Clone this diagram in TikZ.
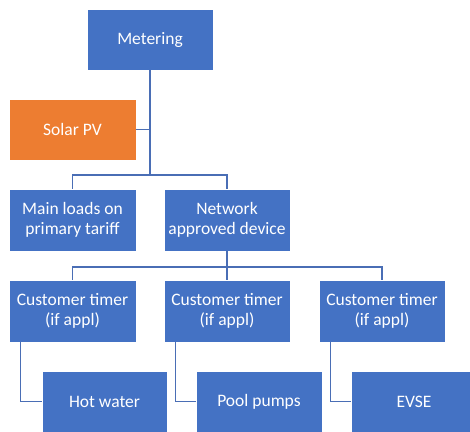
\documentclass[tikz,border=0pt]{standalone}
\usepackage{fontspec}
\setmainfont{Carlito}
\definecolor{boxblue}{HTML}{4472C4}
\definecolor{boxorange}{HTML}{ED7D31}
\definecolor{linkblue}{HTML}{4A6EB5}
\begin{document}
\begin{tikzpicture}[x=1pt,y=-1pt,
  box/.style={fill=boxblue, draw=white, line width=0.8pt, minimum width=126pt, minimum height=62pt,
    inner sep=0pt, text=white, align=center, font=\fontsize{17.5}{20}\selectfont},
  link/.style={draw=linkblue, line width=1.5pt}]
\useasboundingbox (0,0) rectangle (470,431);
\node[box, minimum height=61pt] (meter) at (150,39.5) {Metering};
\node[box, fill=boxorange, minimum height=61pt, minimum width=127pt] (solar) at (72.5,129.5) {Solar PV};
\node[box, minimum width=127pt] (main) at (72.5,220) {Main loads on\\primary tariff};
\node[box] (net) at (227,220) {Network\\approved device};
\node[box, minimum width=127pt] (ct1) at (72.5,311) {Customer timer\\(if appl)};
\node[box] (ct2) at (227,311) {Customer timer\\(if appl)};
\node[box] (ct3) at (382,311) {Customer timer\\(if appl)};
\node[box, minimum height=61pt, minimum width=125pt] (hot) at (104.5,401.5) {Hot water};
\node[box, minimum height=61pt] (pool) at (259,401.5) {Pool pumps};
\node[box, minimum height=61pt] (evse) at (414,401.5) {EVSE};
\coordinate (j1) at (150,175);
\coordinate (j2) at (227,267);
\draw[link] (meter.south) -- (j1);
\draw[link] (solar.east) -- (solar.east -| meter.south);
\draw[link] (main.north) |- (j1) -| (net.north);
\draw[link] (net.south) -- (j2);
\draw[link] (ct1.north) |- (j2) -| (ct3.north);
\draw[link] (j2) -- (ct2.north);
\draw[link] ([xshift=12pt]ct1.south west) |- (hot.west);
\draw[link] ([xshift=12pt]ct2.south west) |- (pool.west);
\draw[link] ([xshift=12pt]ct3.south west) |- (evse.west);
\end{tikzpicture}
\end{document}
